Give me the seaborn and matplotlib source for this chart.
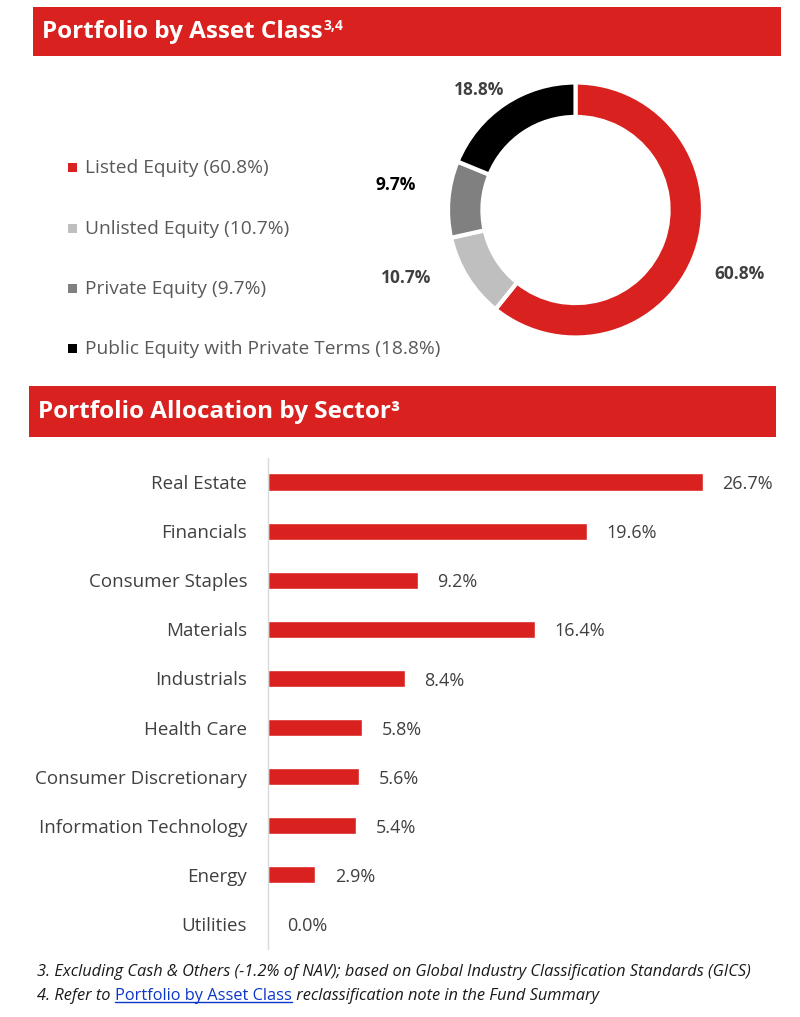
import matplotlib
matplotlib.use("Agg")
import numpy as np
import matplotlib.pyplot as plt
from matplotlib.patches import Rectangle
from matplotlib.lines import Line2D
import seaborn as sns

sns.set_theme(style="white")
plt.rcParams['font.family'] = ['Open Sans', 'DejaVu Sans']

RED = "#D9221F"

# asset class data
asset_classes = ["Listed Equity", "Unlisted Equity", "Private Equity", "Public Equity with Private Terms"]
asset_values = [60.8, 10.7, 9.7, 18.8]
asset_colors = [RED, "#BFBFBF", "#808080", "#000000"]

# sector data
sectors = ["Real Estate", "Financials", "Consumer Staples", "Materials", "Industrials",
           "Health Care", "Consumer Discretionary", "Information Technology", "Energy", "Utilities"]
sector_values = [26.7, 19.6, 9.2, 16.4, 8.4, 5.8, 5.6, 5.4, 2.9, 0.0]

W, H = 800, 1017
fig = plt.figure(figsize=(W / 100, H / 100), dpi=100)


def px_box(x0, y0, x1, y1):
    # pixel box (top-left origin) -> figure fraction rect
    return [x0 / W, 1 - y1 / H, (x1 - x0) / W, (y1 - y0) / H]


# ---- donut ----
cx, cy, r = 575.5, 210, 127.5
ax_pie = fig.add_axes(px_box(cx - r, cy - r, cx + r, cy + r))
wedges, texts = ax_pie.pie(asset_values, colors=asset_colors, startangle=90, counterclock=False,
                           radius=1, labels=[f"{v:.1f}%" for v in asset_values],
                           labeldistance=1.35,
                           wedgeprops=dict(width=0.27, edgecolor="white", linewidth=3))
label_dist = [1.38, 1.43, 1.42, 1.21]
label_rot = [-2, -10, -3, 5]
label_cols = ["#404040", "#404040", "#000000", "#404040"]
for w, t, d, da, c in zip(wedges, texts, label_dist, label_rot, label_cols):
    ang = np.deg2rad((w.theta1 + w.theta2) / 2 + da)
    t.set_position((d * np.cos(ang), d * np.sin(ang)))
    t.set_ha("center")
    t.set_va("center")
    t.set_fontsize(12.5)
    t.set_fontweight("bold")
    t.set_color(c)
ax_pie.set_xlim(-1, 1)
ax_pie.set_ylim(-1, 1)
ax_pie.set_aspect("equal")
ax_pie.axis("off")

# ---- bars ----
ax = fig.add_axes(px_box(268, 457.5, 268 + 16.29 * 30, 948.5))
sns.barplot(x=sector_values, y=sectors, orient="h", color=RED, width=0.35,
            saturation=1, ax=ax)
ax.set_xlim(0, 30)
ax.set_ylim(9.5, -0.5)
for lbl in ax.bar_label(ax.containers[0], fmt="%.1f%%", padding=14, fontsize=13, color="#404040"):
    lbl.set_va("center")
    lbl.set_y(-1.5)
ax.set_xticks([])
ax.set_xlabel("")
ax.set_ylabel("")
ax.tick_params(axis="y", length=0, pad=15, labelsize=13.5, labelcolor="#404040")
for s in ["top", "right", "bottom"]:
    ax.spines[s].set_visible(False)
ax.spines["left"].set_color("#D9D9D9")
ax.spines["left"].set_linewidth(1)


def header(x0, y0, x1, y1, title):
    fig.patches.append(Rectangle((x0 / W, 1 - y1 / H), (x1 - x0) / W, (y1 - y0) / H,
                                 transform=fig.transFigure, facecolor=RED, edgecolor="none"))
    return fig.text((x0 + 9) / W, 1 - ((y0 + y1) / 2 + 1) / H, title, color="white",
                    fontsize=17.5, fontweight="bold", va="center", ha="left")


h1 = header(33, 7, 781, 56, "Portfolio by Asset Class")
header(29, 386, 776, 437, "Portfolio Allocation by Sector\u00b3")

# legend
leg_y = [168, 229, 289, 349]
for name, val, col, y in zip(asset_classes, asset_values, asset_colors, leg_y):
    fig.patches.append(Rectangle((68 / W, 1 - (y + 4) / H), 9 / W, 9 / H,
                                 transform=fig.transFigure, facecolor=col, edgecolor="none"))
    fig.text(85 / W, 1 - y / H, f"{name} ({val:.1f}%)", color="#595959", fontsize=13.8,
             va="center", ha="left")

# ---- footnotes ----
fn = dict(fontsize=11.8, style="italic", color="#1a1a1a", ha="left", va="baseline")
fig.text(37 / W, 1 - 976 / H,
         "3. Excluding Cash & Others (-1.2% of NAV); based on Global Industry Classification Standards (GICS)",
         **fn)
t1 = fig.text(37 / W, 1 - 1000 / H, "4. Refer to ", **fn)

fig.canvas.draw()
# superscript on first header
bb = h1.get_window_extent()
fig.text((bb.x1 + 1) / W, (bb.y1 + 1) / H, "3,4", color="white", fontsize=10,
         fontweight="bold", va="top", ha="left")

# link text + rest of footnote
bb = t1.get_window_extent()
link = dict(fn)
link.update(style="normal", color="#0B36C8")
t2 = fig.text(bb.x1 / W, 1 - 1000 / H, "Portfolio by Asset Class", **link)
fig.canvas.draw()
bb2 = t2.get_window_extent()
fig.text(bb2.x1 / W, 1 - 1000 / H, " reclassification note in the Fund Summary", **fn)
fig.lines.append(Line2D([bb2.x0 / W, bb2.x1 / W], [(bb2.y0 + 2) / H, (bb2.y0 + 2) / H],
                        transform=fig.transFigure, color="#0B36C8", linewidth=1))

fig.savefig("out.png", dpi=100)
